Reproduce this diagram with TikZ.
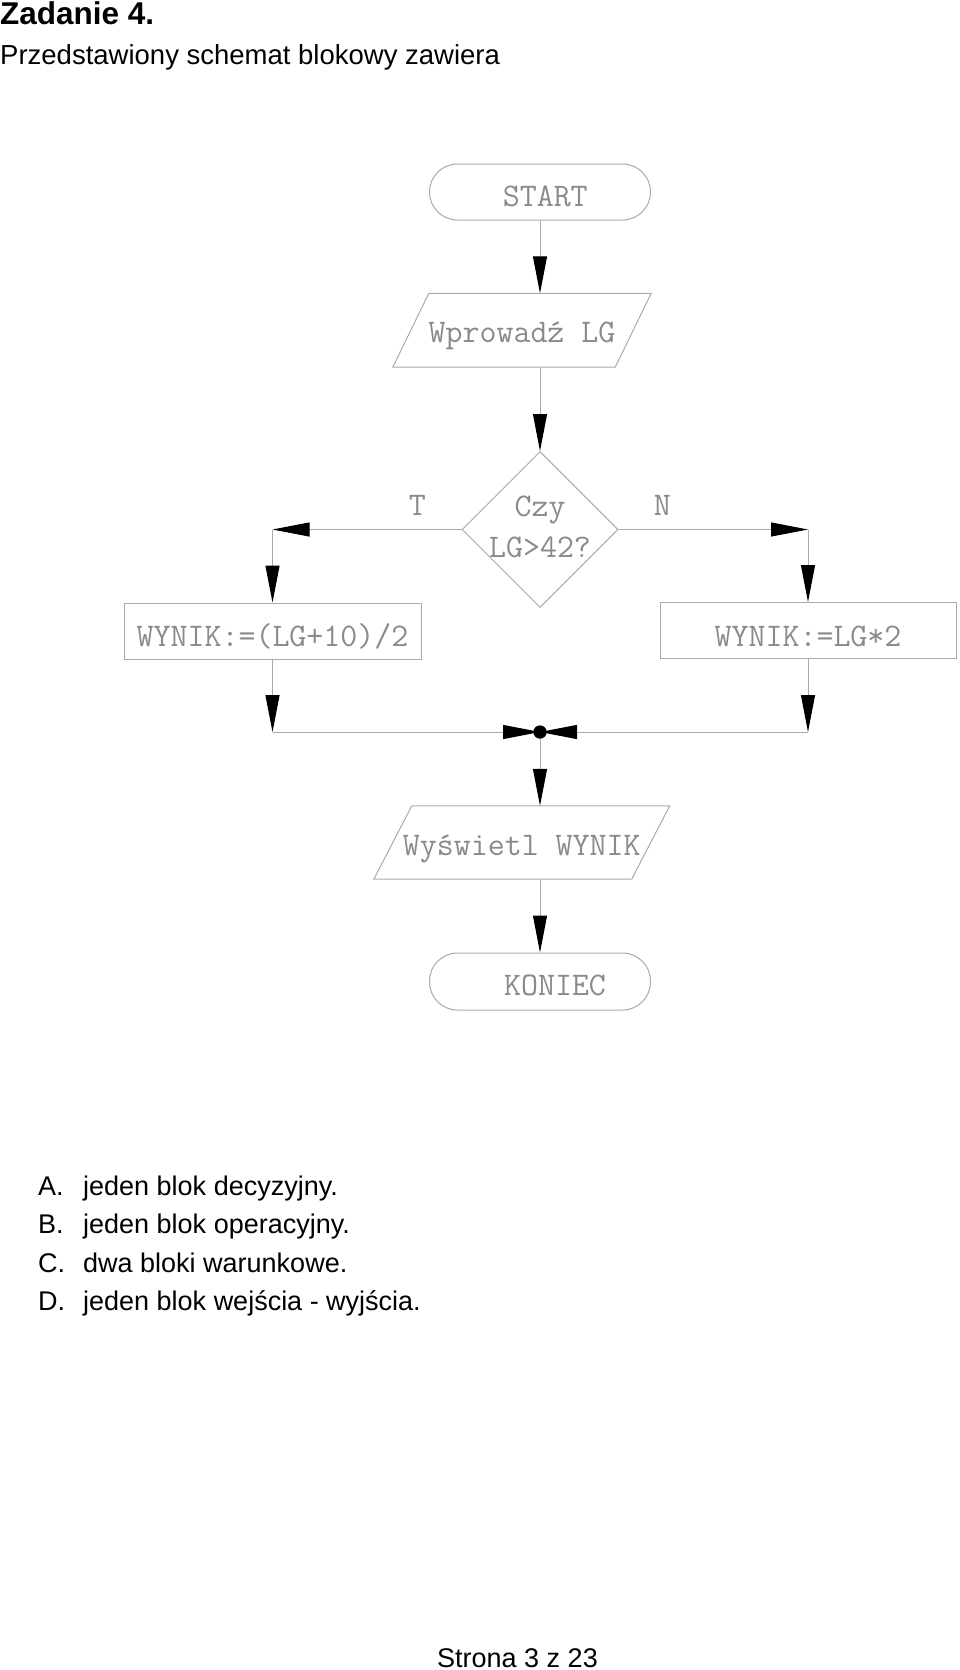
\documentclass[tikz,border=0pt]{standalone}
\usepackage{fontspec}
\setmainfont{Liberation Sans}
\usetikzlibrary{arrows.meta,shapes.geometric,calc}
\definecolor{ln}{RGB}{170,170,170}
\definecolor{tx}{RGB}{138,138,138}
\begin{document}
\begin{tikzpicture}[x=1pt,y=-1pt,
  flow/.style={draw=ln, line width=1pt},
  arr/.style={draw=ln, line width=1pt, -{Triangle[length=37pt,width=14pt,color=black]}},
  ft/.style={font=\fontsize{33}{37}\selectfont\ttfamily, text=tx, inner sep=0pt},
  term/.style={ft, flow, rectangle, rounded corners=28pt, minimum width=221pt, minimum height=56pt},
  proc/.style={ft, flow, rectangle, minimum height=56pt},
  io/.style={ft, rectangle, minimum height=73pt},
  body/.style={font=\fontsize{27}{32}\selectfont, inner sep=0pt, anchor=base west},
]
\useasboundingbox (0,0) rectangle (960,1670);

% header
\node[font=\fontsize{31.5}{36}\selectfont\bfseries, inner sep=0pt, anchor=base west] (title) at (0,25) {Zadanie 4.};
\node[body, font=\fontsize{27.5}{32}\selectfont] (sub) at (0,65) {Przedstawiony schemat blokowy zawiera};

% flowchart nodes
\node[term, text height=28pt, text depth=0pt] (start) at (540,192) {\hspace*{10.5pt}START};

\node[io, minimum width=222pt, minimum height=73.5pt, text height=24pt, text depth=0pt] (p1) at (522,330.25) {Wprowadź LG};
\draw[flow] ([xshift=18pt]p1.north west) -- ([xshift=18pt]p1.north east) -- ([xshift=-18pt]p1.south east) -- ([xshift=-18pt]p1.south west) -- cycle;

\node[diamond, draw=ln, line width=1pt, aspect=1, minimum width=156pt, minimum height=156pt, inner sep=0pt,
  label={[ft, anchor=base, yshift=19.5pt]center:Czy},
  label={[ft, anchor=base, yshift=-17.5pt]center:LG>42?}] (dia) at (540,529.5) {};

\node[proc, minimum width=297pt, text height=31pt, text depth=0pt] (boxL) at (272.5,631) {WYNIK:=(LG+10)/2};
\node[proc, minimum width=296pt, text height=31pt, text depth=0pt] (boxR) at (808,630.5) {WYNIK:=LG*2};

\node[circle, fill=black, inner sep=0pt, minimum size=13pt] (mg) at (540,732) {};

\node[io, minimum width=257.5pt, minimum height=73pt, text height=25pt, text depth=0pt] (p2) at (521.75,842.5) {Wyświetl WYNIK};
\draw[flow] ([xshift=19pt]p2.north west) -- ([xshift=19pt]p2.north east) -- ([xshift=-19pt]p2.south east) -- ([xshift=-19pt]p2.south west) -- cycle;

\node[term, minimum height=57pt, text height=27pt, text depth=0pt] (end) at (540,981.5) {\hspace*{30pt}KONIEC};

% helper coordinates
\coordinate (cT) at (boxL.north |- dia.west);
\coordinate (cN) at (boxR.north |- dia.east);
\coordinate (mL) at (boxL.south |- mg.center);
\coordinate (mR) at (boxR.south |- mg.center);

% connectors
\draw[arr] (start.south) -- (start.south |- p1.north);
\draw[arr] (start.south |- p1.south) -- (dia.north);
\draw[arr] (dia.west) -- node[ft, pos=0.233, anchor=base, yshift=14pt] (lT) {T} (cT);
\draw[arr] (cT) -- (boxL.north);
\draw[arr] (dia.east) -- node[ft, pos=0.232, anchor=base, yshift=14pt] (lN) {N} (cN);
\draw[arr] (cN) -- (boxR.north);
\draw[arr] (boxL.south) -- (mL);
\draw[arr] (boxR.south) -- (mR);
\draw[arr] (mL) -- (mg.center);
\draw[arr] (mR) -- (mg.center);
\draw[arr] (mg.south) -- (mg.center |- p2.north);
\draw[arr] (mg.center |- p2.south) -- (end.north);
\fill[black] (mg.center) circle[radius=6.5pt];

% answers
\node[body] (oA) at (38,1195) {\makebox[45pt][l]{A.}jeden blok decyzyjny.};
\node[body] (oB) at (38,1233) {\makebox[45pt][l]{B.}jeden blok operacyjny.};
\node[body] (oC) at (38,1272) {\makebox[45pt][l]{C.}dwa bloki warunkowe.};
\node[body] (oD) at (38,1310) {\makebox[45pt][l]{D.}jeden blok wejścia - wyjścia.};

\node[body, anchor=base] (pg) at (517.5,1667) {Strona 3 z 23};
\end{tikzpicture}
\end{document}
